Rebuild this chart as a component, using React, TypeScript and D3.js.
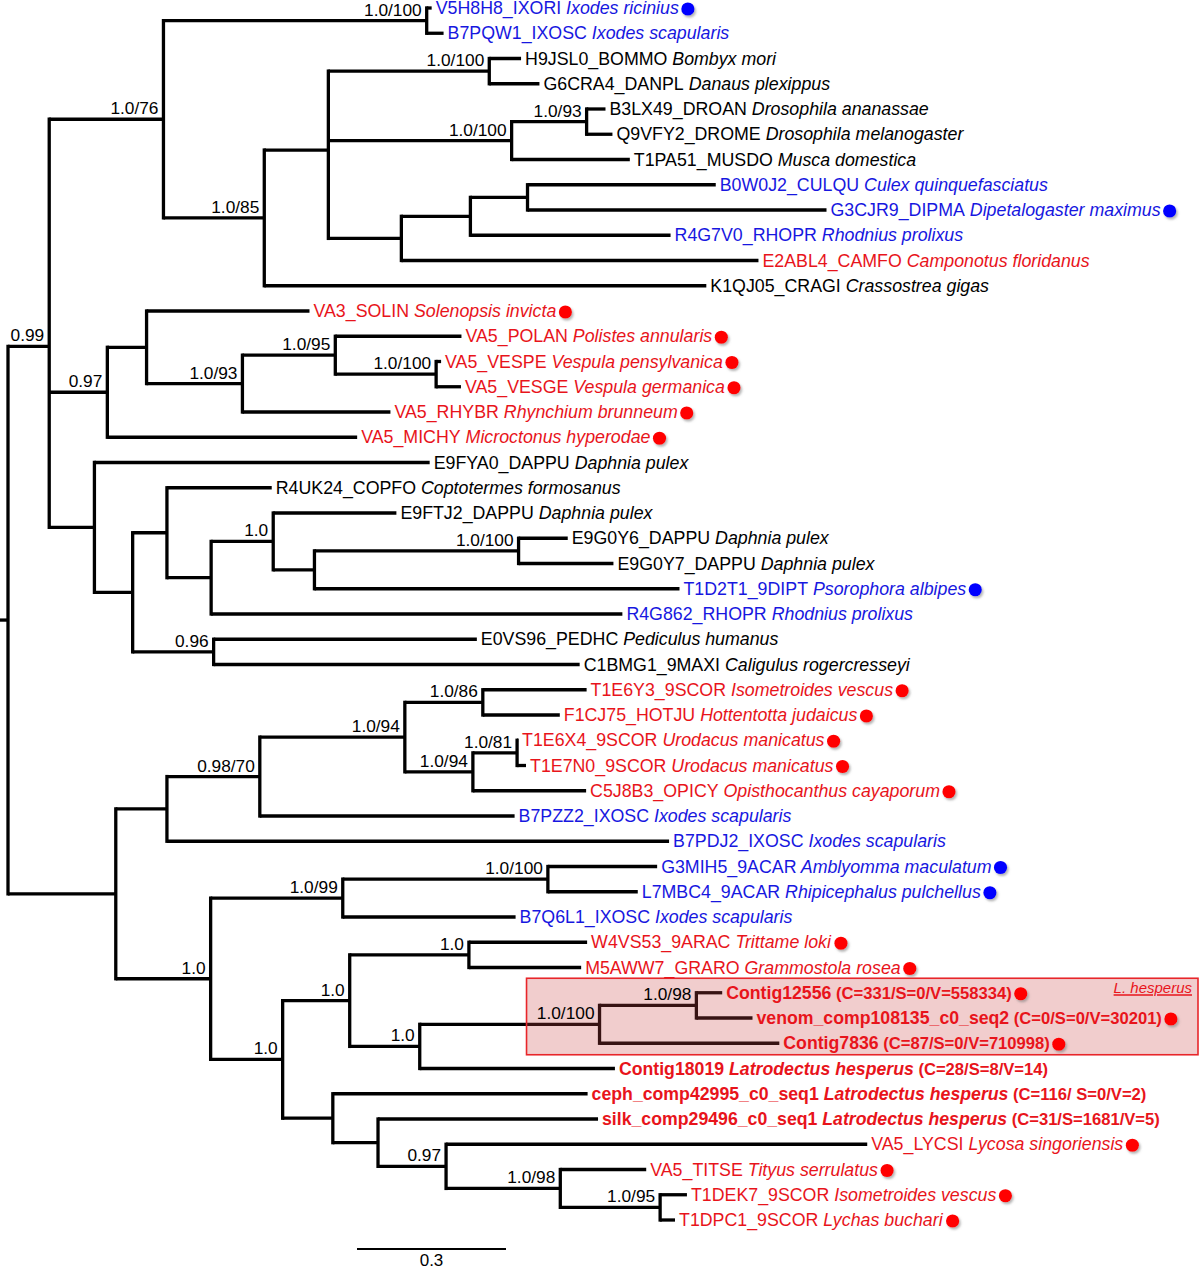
import React, { useEffect, useRef } from 'react';
import * as d3 from 'd3';

// Tree topology, branch lengths (substitutions/site) and support values (internal labels)
const NEWICK =
  '(' +
  '(' +
  '(' +
  '(V5H8H8_IXORI:0.010,B7PQW1_IXOSC:0.034)1.0/100:0.530,' +
  '(' +
  '(' +
  '(H9JSL0_BOMMO:0.064,G6CRA4_DANPL:0.101)1.0/100:0.324,' +
  '((B3LX49_DROAN:0.038,Q9VFY2_DROME:0.052)1.0/93:0.151,T1PA51_MUSDO:0.238)1.0/100:0.369,' +
  '(((B0W0J2_CULQU:0.379,G3CJR9_DIPMA:0.602):0.115,R4G7V0_RHOPR:0.403):0.139,E2ABL4_CAMFO:0.719):0.147' +
  '):0.129,' +
  'K1QJ05_CRAGI:0.890' +
  ')1.0/85:0.203' +
  ')1.0/76:0.230,' +
  '(' +
  '(VA3_SOLIN:0.328,((VA5_POLAN:0.254,(VA5_VESPE:0.010,VA5_VESGE:0.050)1.0/100:0.203)1.0/95:0.187,VA5_RHYBR:0.298)1.0/93:0.193):0.079,' +
  'VA5_MICHY:0.503' +
  ')0.97:0.117,' +
  '(' +
  'E9FYA0_DAPPU:0.675,' +
  '((R4UK24_COPFO:0.211,((E9FTJ2_DAPPU:0.248,((E9G0Y6_DAPPU:0.099,E9G0Y7_DAPPU:0.191)1.0/100:0.411,T1D2T1_9DIPT:0.735):0.083)1.0:0.125,R4G862_RHOPR:0.828):0.089):0.069,' +
  '(E0VS96_PEDHC:0.530,C1BMG1_9MAXI:0.737)0.96:0.163):0.077' +
  '):0.091' +
  ')0.99:0.083,' +
  '(' +
  '(' +
  '(' +
  '((T1E6Y3_9SCOR:0.209,F1CJ75_HOTJU:0.155)1.0/86:0.157,((T1E6X4_9SCOR:0.002,T1E7N0_9SCOR:0.018)1.0/81:0.089,C5J8B3_OPICY:0.228)1.0/94:0.137)1.0/94:0.292,' +
  'B7PZZ2_IXOSC:0.513' +
  ')0.98/70:0.187,' +
  'B7PDJ2_IXOSC:1.011' +
  '):0.103,' +
  '(' +
  '((G3MIH5_9ACAR:0.220,L7MBC4_9ACAR:0.181)1.0/100:0.413,B7Q6L1_IXOSC:0.348)1.0/99:0.266,' +
  '(' +
  '(' +
  '(W4VS53_9ARAC:0.238,M5AWW7_GRARO:0.226)1.0:0.240,' +
  '(((Contig12556:0.052,venom_comp108135_c0_seq2:0.113)1.0/98:0.195,Contig7836:0.362)1.0/100:0.362,Contig18019:0.393)1.0:0.141' +
  ')1.0:0.135,' +
  '(ceph_comp42995_c0_seq1:0.513,(silk_comp29496_c0_seq1:0.443,(VA5_LYCSI:0.848,(VA5_TITSE:0.173,(T1DEK7_9SCOR:0.054,T1DPC1_9SCOR:0.030)1.0/95:0.201)1.0/98:0.230)0.97:0.137):0.091):0.101' +
  ')1.0:0.145' +
  ')1.0:0.191' +
  '):0.217' +
  ');';

// Leaf metadata (top to bottom)
const LEAF_IDS = [
  'V5H8H8_IXORI', 'B7PQW1_IXOSC', 'H9JSL0_BOMMO', 'G6CRA4_DANPL', 'B3LX49_DROAN', 'Q9VFY2_DROME',
  'T1PA51_MUSDO', 'B0W0J2_CULQU', 'G3CJR9_DIPMA', 'R4G7V0_RHOPR', 'E2ABL4_CAMFO', 'K1QJ05_CRAGI',
  'VA3_SOLIN', 'VA5_POLAN', 'VA5_VESPE', 'VA5_VESGE', 'VA5_RHYBR', 'VA5_MICHY', 'E9FYA0_DAPPU',
  'R4UK24_COPFO', 'E9FTJ2_DAPPU', 'E9G0Y6_DAPPU', 'E9G0Y7_DAPPU', 'T1D2T1_9DIPT', 'R4G862_RHOPR',
  'E0VS96_PEDHC', 'C1BMG1_9MAXI', 'T1E6Y3_9SCOR', 'F1CJ75_HOTJU', 'T1E6X4_9SCOR', 'T1E7N0_9SCOR',
  'C5J8B3_OPICY', 'B7PZZ2_IXOSC', 'B7PDJ2_IXOSC', 'G3MIH5_9ACAR', 'L7MBC4_9ACAR', 'B7Q6L1_IXOSC',
  'W4VS53_9ARAC', 'M5AWW7_GRARO', 'Contig12556', 'venom_comp108135_c0_seq2', 'Contig7836',
  'Contig18019', 'ceph_comp42995_c0_seq1', 'silk_comp29496_c0_seq1', 'VA5_LYCSI', 'VA5_TITSE',
  'T1DEK7_9SCOR', 'T1DPC1_9SCOR',
];
const SPECIES = [
  'Ixodes ricinius', 'Ixodes scapularis', 'Bombyx mori', 'Danaus plexippus', 'Drosophila ananassae',
  'Drosophila melanogaster', 'Musca domestica', 'Culex quinquefasciatus', 'Dipetalogaster maximus',
  'Rhodnius prolixus', 'Camponotus floridanus', 'Crassostrea gigas', 'Solenopsis invicta',
  'Polistes annularis', 'Vespula pensylvanica', 'Vespula germanica', 'Rhynchium brunneum',
  'Microctonus hyperodae', 'Daphnia pulex', 'Coptotermes formosanus', 'Daphnia pulex', 'Daphnia pulex',
  'Daphnia pulex', 'Psorophora albipes', 'Rhodnius prolixus', 'Pediculus humanus',
  'Caligulus rogercresseyi', 'Isometroides vescus', 'Hottentotta judaicus', 'Urodacus manicatus',
  'Urodacus manicatus', 'Opisthocanthus cayaporum', 'Ixodes scapularis', 'Ixodes scapularis',
  'Amblyomma maculatum', 'Rhipicephalus pulchellus', 'Ixodes scapularis', 'Trittame loki',
  'Grammostola rosea', '', '', '', 'Latrodectus hesperus', 'Latrodectus hesperus',
  'Latrodectus hesperus', 'Lycosa singoriensis', 'Tityus serrulatus', 'Isometroides vescus',
  'Lychas buchari',
];
// k = black, b = blue, r = red, L = L. hesperus (bold red)
const LEAF_GROUP = [
  'b', 'b', 'k', 'k', 'k', 'k', 'k', 'b', 'b', 'b', 'r', 'k',
  'r', 'r', 'r', 'r', 'r', 'r', 'k', 'k', 'k', 'k', 'k', 'b', 'b',
  'k', 'k', 'r', 'r', 'r', 'r', 'r', 'b', 'b', 'b', 'b', 'b',
  'r', 'r', 'L', 'L', 'L', 'L', 'L', 'L', 'r', 'r', 'r', 'r',
];
const DOTS = [
  'b', '', '', '', '', '', '', '', 'b', '', '', '',
  'r', 'r', 'r', 'r', 'r', 'r', '', '', '', '', '', 'b', '',
  '', '', 'r', 'r', 'r', 'r', 'r', '', '', 'b', 'b', '',
  'r', 'r', 'r', 'r', 'r', '', '', '', 'r', 'r', 'r', 'r',
];
const COUNTS = [
  '', '', '', '', '', '', '', '', '', '', '', '', '', '', '', '', '', '', '', '', '', '', '', '', '',
  '', '', '', '', '', '', '', '', '', '', '', '', '', '',
  '(C=331/S=0/V=558334)', '(C=0/S=0/V=30201)', '(C=87/S=0/V=710998)', '(C=28/S=8/V=14)',
  '(C=116/ S=0/V=2)', '(C=31/S=1681/V=5)', '', '', '', '',
];
const BOXED = ['Contig12556', 'venom_comp108135_c0_seq2', 'Contig7836'];
const BOX_LABEL = 'L. hesperus';
const SCALE_BAR = 0.3;

const TEXT_COLOUR: Record<string, string> = { k: '#000000', b: '#1717e0', r: '#e8141b', L: '#e8141b' };
const DOT_COLOUR: Record<string, string> = { b: '#0000ff', r: '#ff0000' };

type TNode = { name: string; length: number; children: TNode[] };

function parseNewick(s: string): TNode {
  let i = 0;
  function node(): TNode {
    const n: TNode = { name: '', length: 0, children: [] };
    if (s[i] === '(') {
      i++;
      n.children.push(node());
      while (s[i] === ',') {
        i++;
        n.children.push(node());
      }
      i++; // ')'
    }
    let name = '';
    while (i < s.length && !',():;'.includes(s[i])) name += s[i++];
    n.name = name.trim();
    if (s[i] === ':') {
      i++;
      let l = '';
      while (i < s.length && !',();'.includes(s[i])) l += s[i++];
      n.length = parseFloat(l);
    }
    return n;
  }
  return node();
}

const FONT = '"Liberation Sans", Arial, Helvetica, sans-serif';

export default function App() {
  const ref = useRef<SVGSVGElement>(null);

  useEffect(() => {
    const svg = d3.select(ref.current);
    svg.selectAll('*').remove();

    const W = 1200;
    const x = d3.scaleLinear().domain([0, SCALE_BAR]).range([8, 157]);
    const y = d3.scaleLinear().domain([0, LEAF_IDS.length - 1]).range([8, 1220]);

    const root = d3.hierarchy<TNode>(parseNewick(NEWICK), (d) => (d.children.length ? d.children : null));
    const pos = new Map<any, { x: number; y: number }>();
    root.eachBefore((n: any) => {
      const px = n.parent ? pos.get(n.parent)!.x : 0;
      pos.set(n, { x: px + (n.parent ? n.data.length : 0), y: 0 });
    });
    root.leaves().forEach((l: any) => {
      pos.get(l)!.y = LEAF_IDS.indexOf(l.data.name);
    });
    root.eachAfter((n: any) => {
      if (n.children) pos.get(n)!.y = d3.mean(n.children, (c: any) => pos.get(c)!.y)!;
    });
    const X = (n: any) => x(pos.get(n)!.x);
    const Y = (n: any) => y(pos.get(n)!.y);

    const defs = svg.append('defs');
    const f = defs.append('filter').attr('id', 'dotShadow').attr('x', '-50%').attr('y', '-50%').attr('width', '200%').attr('height', '200%');
    f.append('feDropShadow').attr('dx', 1.5).attr('dy', 2).attr('stdDeviation', 1.3).attr('flood-color', '#777').attr('flood-opacity', 0.55);

    svg.append('rect').attr('width', W).attr('height', 1270).attr('fill', '#ffffff');

    const gB = svg.append('g').attr('stroke', '#000').attr('stroke-width', 3.3).attr('fill', 'none');
    gB.append('line').attr('x1', 0).attr('x2', X(root)).attr('y1', Y(root)).attr('y2', Y(root)).attr('stroke-linecap', 'butt');
    root.descendants().forEach((n: any) => {
      if (n.parent) {
        gB.append('line')
          .attr('x1', X(n.parent)).attr('x2', X(n))
          .attr('y1', Y(n)).attr('y2', Y(n))
          .attr('stroke-linecap', 'butt');
      }
      if (n.children) {
        const ys = n.children.map((c: any) => Y(c));
        gB.append('line')
          .attr('x1', X(n)).attr('x2', X(n))
          .attr('y1', d3.min(ys)!).attr('y2', d3.max(ys)!)
          .attr('stroke-linecap', 'square');
      }
    });

    // L. hesperus box (semi-transparent over branches)
    const boxedIdx = BOXED.map((id) => LEAF_IDS.indexOf(id));
    const boxNode = root.leaves().find((l: any) => l.data.name === BOXED[0])!.parent!.parent!;
    const bx0 = X(boxNode) - 73;
    const by0 = y(d3.min(boxedIdx)!) - 14.5;
    const by1 = y(d3.max(boxedIdx)!) + 11.5;
    svg.append('rect')
      .attr('x', bx0).attr('y', by0).attr('width', W - 2 - bx0).attr('height', by1 - by0)
      .attr('fill', 'rgba(205,70,70,0.27)')
      .attr('stroke', '#e8262a').attr('stroke-width', 1.6);
    svg.append('text')
      .attr('x', W - 8).attr('y', by0 + 15)
      .attr('text-anchor', 'end')
      .attr('fill', '#e8141b')
      .style('font-family', FONT).style('font-size', '15px').style('font-style', 'italic')
      .style('text-decoration', 'underline')
      .text(BOX_LABEL);

    // support values
    const gS = svg.append('g').style('font-family', FONT).style('font-size', '17.3px').attr('fill', '#000');
    root.descendants().forEach((n: any) => {
      if (n.children && n.data.name) {
        gS.append('text').attr('x', X(n) - 5).attr('y', Y(n) - 5).attr('text-anchor', 'end').text(n.data.name);
      }
    });

    // leaf labels
    const gL = svg.append('g').style('font-family', FONT);
    root.leaves().forEach((l: any) => {
      const idx = LEAF_IDS.indexOf(l.data.name);
      const grp = LEAF_GROUP[idx];
      const bold = grp === 'L';
      const t = gL.append('text')
        .attr('x', X(l) + 4).attr('y', Y(l)).attr('dy', '0.35em')
        .attr('fill', TEXT_COLOUR[grp])
        .style('font-size', bold ? '17.7px' : '17.8px')
        .style('font-weight', bold ? 'bold' : 'normal');
      t.append('tspan').text(LEAF_IDS[idx]);
      if (SPECIES[idx]) t.append('tspan').style('font-style', 'italic').text(' ' + SPECIES[idx]);
      if (COUNTS[idx]) t.append('tspan').style('font-size', '16.6px').text(' ' + COUNTS[idx]);
      const dot = DOTS[idx];
      if (dot) {
        const bb = (t.node() as SVGTextElement).getBBox();
        gL.append('circle')
          .attr('cx', bb.x + bb.width + 9).attr('cy', Y(l) + 1).attr('r', 6.6)
          .attr('fill', DOT_COLOUR[dot])
          .attr('filter', 'url(#dotShadow)');
      }
    });

    // scale bar
    const sx0 = 357;
    const sy = 1249;
    svg.append('line')
      .attr('x1', sx0).attr('x2', sx0 + x(SCALE_BAR) - x(0))
      .attr('y1', sy).attr('y2', sy)
      .attr('stroke', '#000').attr('stroke-width', 2);
    svg.append('text')
      .attr('x', sx0 + (x(SCALE_BAR) - x(0)) / 2).attr('y', sy + 17)
      .attr('text-anchor', 'middle')
      .style('font-family', FONT).style('font-size', '17px')
      .text(String(SCALE_BAR));
  }, []);

  return (
    <svg
      ref={ref}
      width={1200}
      height={1270}
      style={{ position: 'absolute', left: 0, top: 0, display: 'block' }}
    />
  );
}
